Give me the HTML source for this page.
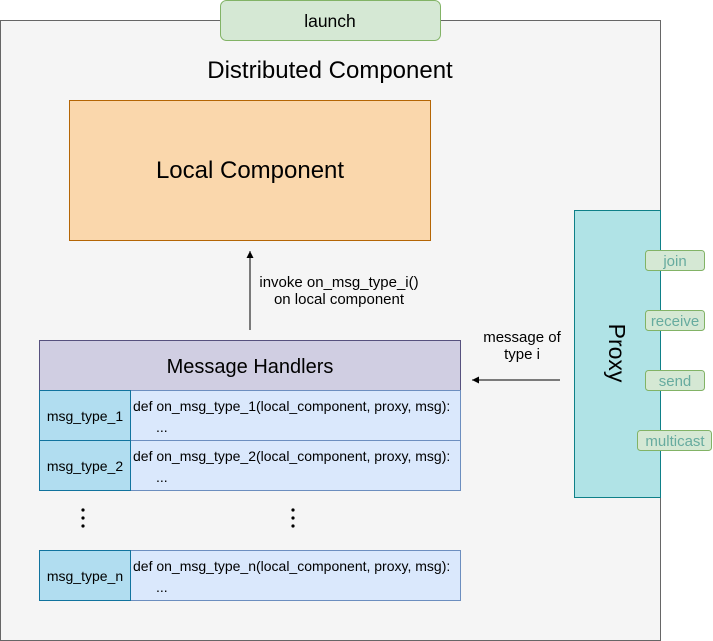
<!DOCTYPE html>
<html><head><style>body{margin:0;background:#fff}svg{display:block;font-family:"Liberation Sans",sans-serif}</style></head><body>
<svg width="713" height="641" viewBox="0 0 713 641">
<defs><marker id="a" markerWidth="8" markerHeight="8" refX="7" refY="4" orient="auto" markerUnits="userSpaceOnUse"><path d="M0,0.5 L7,4 L0,7.5 Z" fill="#000"/></marker></defs>
<rect x="0.5" y="20.5" width="660" height="620" fill="#f5f5f5" stroke="#666"/>
<rect x="220.5" y="0.5" width="220" height="40" rx="6" fill="#d5e8d4" stroke="#82b366"/>
<text x="330" y="27" font-size="17.5" text-anchor="middle">launch</text>
<text x="330" y="78" font-size="24" text-anchor="middle">Distributed Component</text>
<rect x="69.5" y="100.5" width="361" height="140" fill="#fad7ac" stroke="#b46504"/>
<text x="250" y="178" font-size="24" text-anchor="middle">Local Component</text>
<line x1="250" y1="330" x2="250" y2="251" stroke="#000" marker-end="url(#a)"/>
<text x="339" y="287" font-size="15" text-anchor="middle">invoke on_msg_type_i()</text>
<text x="339" y="304" font-size="15" text-anchor="middle">on local component</text>
<rect x="39.5" y="340.5" width="421" height="50" fill="#d0cee2" stroke="#56517e"/>
<text x="250" y="373" font-size="20" text-anchor="middle">Message Handlers</text>
<g font-size="14">
<rect x="130.5" y="390.5" width="330" height="50" fill="#dae8fc" stroke="#6c8ebf"/>
<rect x="39.5" y="390.5" width="91" height="50" fill="#b1ddf0" stroke="#10739e"/>
<text x="85" y="421" text-anchor="middle">msg_type_1</text>
<text x="133" y="411">def on_msg_type_1(local_component, proxy, msg):</text>
<text x="156" y="432">...</text>
<rect x="130.5" y="440.5" width="330" height="50" fill="#dae8fc" stroke="#6c8ebf"/>
<rect x="39.5" y="440.5" width="91" height="50" fill="#b1ddf0" stroke="#10739e"/>
<text x="85" y="471" text-anchor="middle">msg_type_2</text>
<text x="133" y="461">def on_msg_type_2(local_component, proxy, msg):</text>
<text x="156" y="482">...</text>
<rect x="130.5" y="550.5" width="330" height="50" fill="#dae8fc" stroke="#6c8ebf"/>
<rect x="39.5" y="550.5" width="91" height="50" fill="#b1ddf0" stroke="#10739e"/>
<text x="85" y="581" text-anchor="middle">msg_type_n</text>
<text x="133" y="571">def on_msg_type_n(local_component, proxy, msg):</text>
<text x="156" y="592">...</text>
</g>
<g fill="#000"><circle cx="83" cy="510" r="1.6"/><circle cx="83" cy="518" r="1.6"/><circle cx="83" cy="526" r="1.6"/>
<circle cx="293" cy="510" r="1.6"/><circle cx="293" cy="518" r="1.6"/><circle cx="293" cy="526" r="1.6"/></g>
<line x1="560" y1="380" x2="472" y2="380" stroke="#000" marker-end="url(#a)"/>
<text x="522" y="342" font-size="15" text-anchor="middle">message of</text>
<text x="522" y="359" font-size="15" text-anchor="middle">type i</text>
<rect x="574.5" y="210.5" width="86" height="287" fill="#b0e3e6" stroke="#0e8088"/>
<text transform="translate(609,353) rotate(90)" font-size="23" text-anchor="middle">Proxy</text>
<g font-size="15" fill="#67ab9f" text-anchor="middle">
<rect x="645.5" y="250.5" width="59" height="20" rx="3" fill="#d5e8d4" stroke="#82b366"/><text x="675" y="266">join</text>
<rect x="645.5" y="310.5" width="59" height="20" rx="3" fill="#d5e8d4" stroke="#82b366"/><text x="675" y="326">receive</text>
<rect x="645.5" y="370.5" width="59" height="20" rx="3" fill="#d5e8d4" stroke="#82b366"/><text x="675" y="386">send</text>
<rect x="637.5" y="430.5" width="74" height="20" rx="3" fill="#d5e8d4" stroke="#82b366"/><text x="675" y="446">multicast</text>
</g>
</svg>
</body></html>
